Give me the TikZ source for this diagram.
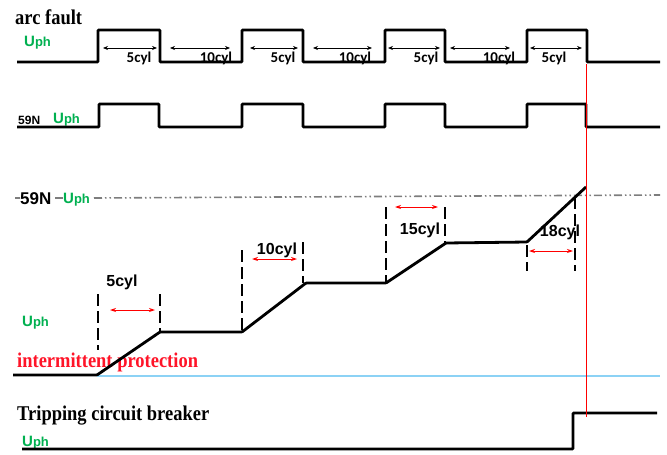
\documentclass[tikz,border=0pt]{standalone}
\usepackage{fontspec}
\usepackage{graphicx}
\setmainfont{Liberation Serif}
\newfontfamily\lsans{Liberation Sans}
\newfontfamily\carl{Carlito}
\usetikzlibrary{arrows.meta}
\definecolor{uphgreen}{RGB}{0,176,80}
\definecolor{skyline}{RGB}{140,210,245}
\definecolor{dashgray}{RGB}{125,125,125}
\definecolor{txtred}{RGB}{255,20,40}
\newcommand{\uphlabel}{{\color{uphgreen}\lsans\bfseries\fontsize{15}{15}\selectfont U\fontsize{13}{13}\selectfont ph}}
\newcommand{\bigserif}[1]{\scalebox{0.88}[1]{\bfseries\fontsize{21}{24}\selectfont #1}}
\begin{document}
\begin{tikzpicture}[x=1pt,y=-1pt,
  wave/.style={line width=2.8pt, rounded corners=0.8pt},
  vdash/.style={line width=1.8pt, dash pattern=on 12pt off 5pt},
  blackarrow/.style={line width=0.7pt, {Stealth[length=5pt,width=4pt]}-{Stealth[length=5pt,width=4pt]}},
  redarrow/.style={red, line width=0.9pt, {Stealth[length=6pt,width=4pt]}-{Stealth[length=6pt,width=4pt]}},
  toplab/.style={inner sep=0pt, font=\carl\bfseries\fontsize{15}{15}\selectfont},
  lowlab/.style={inner sep=0pt, font=\lsans\bfseries\fontsize{16}{16}\selectfont},
  uphnode/.style={inner sep=0pt, anchor=base west},
  titlenode/.style={inner sep=0pt, anchor=base west}]
\useasboundingbox (0,0) rectangle (667,455);

% ---------- row 1: arc fault ----------
\node[titlenode] (arcfault) at (15,24) {\bigserif{arc fault}};
\node[uphnode] (uph1) at (24,46) {\uphlabel};
\draw[wave] (17,62) -- (98,62) -- (98,30) -- (160,30) -- (160,62) -- (242,62) -- (242,30) -- (303,30) -- (303,62) -- (385,62) -- (385,30) -- (445,30) -- (445,62) -- (527,62) -- (527,30) -- (587,30) -- (587,62) -- (660,62);
\foreach \a/\b in {103/157,170/230,250/298,313/372,388/440,450/510,530/582}
  \draw[blackarrow] (\a,48) -- (\b,48);
\node[toplab] (c1) at (139,58) {5cyl};
\node[toplab] (c2) at (216,58) {10cyl};
\node[toplab] (c3) at (283,58) {5cyl};
\node[toplab] (c4) at (355,58) {10cyl};
\node[toplab] (c5) at (426,58) {5cyl};
\node[toplab] (c6) at (499,58) {10cyl};
\node[toplab] (c7) at (554,58) {5cyl};

% ---------- row 2: 59N ----------
\node[uphnode, font=\lsans\bfseries\fontsize{12}{12}\selectfont] (n59a) at (18,124) {59N};
\node[uphnode] (uph2) at (53,123) {\uphlabel};
\draw[wave] (17,127) -- (99,127) -- (99,104) -- (159,104) -- (159,127) -- (242,127) -- (242,104) -- (303,104) -- (303,127) -- (385,127) -- (385,104) -- (445,104) -- (445,127) -- (527,127) -- (527,104) -- (586,104) -- (586,127) -- (660,127);

% ---------- row 3: threshold and ramp ----------
\node[uphnode, font=\lsans\bfseries\fontsize{17}{17}\selectfont] (n59b) at (20,204) {59N};
\node[uphnode] (uph3) at (63,203) {\uphlabel};
\coordinate (dl0) at (15,198);
\coordinate (dl1) at (20,198);
\coordinate (dm0) at (55,198);
\coordinate (dm1) at (63,198);
\coordinate (ds) at (94,198);
\coordinate (de) at (660,195);
\draw[dashgray, line width=1.6pt] (dl0) -- (dl1) (dm0) -- (dm1);
\draw[dashgray, line width=1.6pt, dash pattern=on 8pt off 3pt on 1.5pt off 3pt on 1.5pt off 3pt] (ds) -- (de);

\node[uphnode] (uph4) at (22,326) {\uphlabel};
\node[titlenode, text=txtred] (interm) at (17,367) {\bigserif{intermittent protection}};

\draw[skyline, line width=1.5pt] (97,376) -- (660,376);
\draw[wave] (13,375) -- (97,375) -- (160,332) -- (242,332) -- (306,283) -- (386,283) -- (446,243) -- (527,242) -- (586,187);

\draw[vdash] (98,294) -- (98,350);
\draw[vdash] (160,294) -- (160,332);
\draw[vdash] (242,250) -- (242,332);
\draw[vdash] (303,242) -- (303,283);
\draw[vdash] (386,207) -- (386,283);
\draw[vdash] (445,207) -- (445,243);
\draw[vdash] (527,245) -- (527,271);
\draw[vdash] (575,197) -- (575,271);

\draw[redarrow] (110,310) -- (155,310);
\draw[redarrow] (252,259) -- (297,259);
\draw[redarrow] (395,207) -- (438,207);
\draw[redarrow] (529,251) -- (573,251);
\node[lowlab] (r1) at (122,282) {5cyl};
\node[lowlab] (r2) at (277,250) {10cyl};
\node[lowlab] (r3) at (420,230) {15cyl};
\node[lowlab] (r4) at (560,232) {18cyl};

% ---------- row 4: tripping ----------
\node[titlenode] (trip) at (17,420) {\bigserif{Tripping circuit breaker}};
\node[uphnode] (uph5) at (22,446) {\uphlabel};
\draw[wave] (22,449) -- (573,449) -- (573,413) -- (657,413);

% red trip line
\draw[red, line width=0.8pt] (586,64) -- (586,417);
\end{tikzpicture}
\end{document}
